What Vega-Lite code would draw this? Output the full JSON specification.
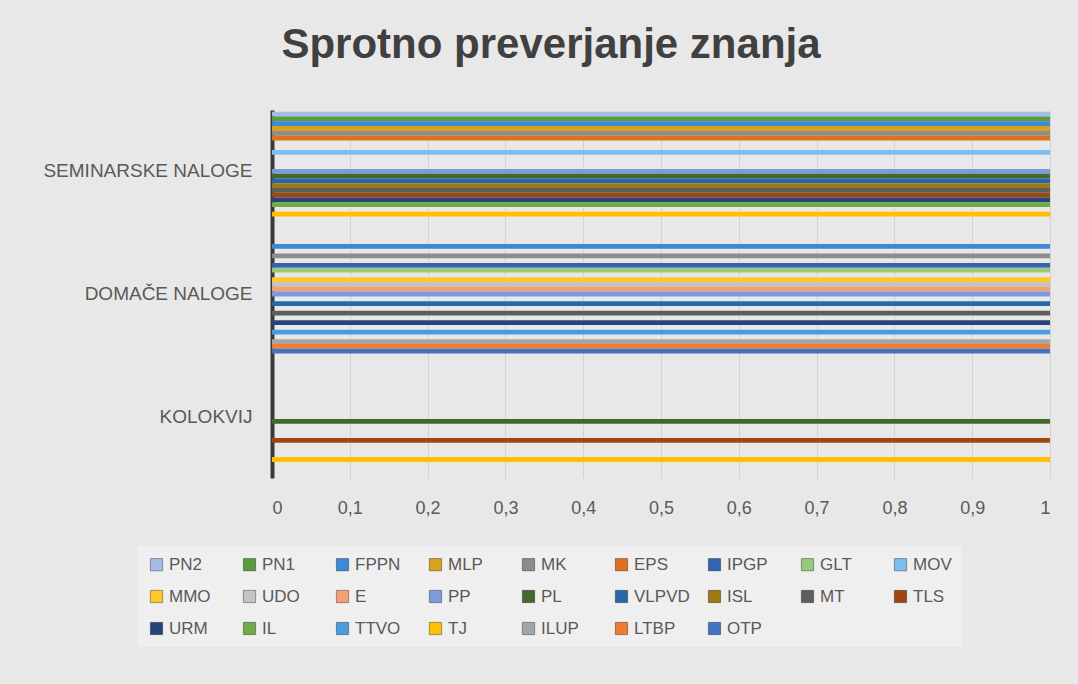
{
  "$schema": "https://vega.github.io/schema/vega-lite/v6.json",
  "width": 778,
  "height": 368,
  "autosize": {"type": "none"},
  "padding": {"left": 272, "top": 110, "right": 28, "bottom": 206},
  "background": "#E8E8E8",
  "title": {
    "text": "Sprotno preverjanje znanja",
    "font": "Liberation Sans",
    "fontSize": 42,
    "fontWeight": "bold",
    "color": "#404040",
    "anchor": "middle",
    "baseline": "alphabetic",
    "dx": -110,
    "offset": 10
  },
  "datasets": {
    "rows": [
      {"kategorija": "SEMINARSKE NALOGE", "predmet": "PN2", "vrednost": 1},
      {"kategorija": "SEMINARSKE NALOGE", "predmet": "PN1", "vrednost": 1},
      {"kategorija": "SEMINARSKE NALOGE", "predmet": "FPPN", "vrednost": 1},
      {"kategorija": "SEMINARSKE NALOGE", "predmet": "MLP", "vrednost": 1},
      {"kategorija": "SEMINARSKE NALOGE", "predmet": "MK", "vrednost": 1},
      {"kategorija": "SEMINARSKE NALOGE", "predmet": "EPS", "vrednost": 1},
      {"kategorija": "SEMINARSKE NALOGE", "predmet": "IPGP", "vrednost": 0},
      {"kategorija": "SEMINARSKE NALOGE", "predmet": "GLT", "vrednost": 0},
      {"kategorija": "SEMINARSKE NALOGE", "predmet": "MOV", "vrednost": 1},
      {"kategorija": "SEMINARSKE NALOGE", "predmet": "MMO", "vrednost": 0},
      {"kategorija": "SEMINARSKE NALOGE", "predmet": "UDO", "vrednost": 0},
      {"kategorija": "SEMINARSKE NALOGE", "predmet": "E", "vrednost": 0},
      {"kategorija": "SEMINARSKE NALOGE", "predmet": "PP", "vrednost": 1},
      {"kategorija": "SEMINARSKE NALOGE", "predmet": "PL", "vrednost": 1},
      {"kategorija": "SEMINARSKE NALOGE", "predmet": "VLPVD", "vrednost": 1},
      {"kategorija": "SEMINARSKE NALOGE", "predmet": "ISL", "vrednost": 1},
      {"kategorija": "SEMINARSKE NALOGE", "predmet": "MT", "vrednost": 1},
      {"kategorija": "SEMINARSKE NALOGE", "predmet": "TLS", "vrednost": 1},
      {"kategorija": "SEMINARSKE NALOGE", "predmet": "URM", "vrednost": 1},
      {"kategorija": "SEMINARSKE NALOGE", "predmet": "IL", "vrednost": 1},
      {"kategorija": "SEMINARSKE NALOGE", "predmet": "TTVO", "vrednost": 0},
      {"kategorija": "SEMINARSKE NALOGE", "predmet": "TJ", "vrednost": 1},
      {"kategorija": "SEMINARSKE NALOGE", "predmet": "ILUP", "vrednost": 0},
      {"kategorija": "SEMINARSKE NALOGE", "predmet": "LTBP", "vrednost": 0},
      {"kategorija": "SEMINARSKE NALOGE", "predmet": "OTP", "vrednost": 0},
      {"kategorija": "DOMAČE NALOGE", "predmet": "PN2", "vrednost": 0},
      {"kategorija": "DOMAČE NALOGE", "predmet": "PN1", "vrednost": 0},
      {"kategorija": "DOMAČE NALOGE", "predmet": "FPPN", "vrednost": 1},
      {"kategorija": "DOMAČE NALOGE", "predmet": "MLP", "vrednost": 0},
      {"kategorija": "DOMAČE NALOGE", "predmet": "MK", "vrednost": 1},
      {"kategorija": "DOMAČE NALOGE", "predmet": "EPS", "vrednost": 0},
      {"kategorija": "DOMAČE NALOGE", "predmet": "IPGP", "vrednost": 1},
      {"kategorija": "DOMAČE NALOGE", "predmet": "GLT", "vrednost": 1},
      {"kategorija": "DOMAČE NALOGE", "predmet": "MOV", "vrednost": 0},
      {"kategorija": "DOMAČE NALOGE", "predmet": "MMO", "vrednost": 1},
      {"kategorija": "DOMAČE NALOGE", "predmet": "UDO", "vrednost": 1},
      {"kategorija": "DOMAČE NALOGE", "predmet": "E", "vrednost": 1},
      {"kategorija": "DOMAČE NALOGE", "predmet": "PP", "vrednost": 1},
      {"kategorija": "DOMAČE NALOGE", "predmet": "PL", "vrednost": 0},
      {"kategorija": "DOMAČE NALOGE", "predmet": "VLPVD", "vrednost": 1},
      {"kategorija": "DOMAČE NALOGE", "predmet": "ISL", "vrednost": 0},
      {"kategorija": "DOMAČE NALOGE", "predmet": "MT", "vrednost": 1},
      {"kategorija": "DOMAČE NALOGE", "predmet": "TLS", "vrednost": 0},
      {"kategorija": "DOMAČE NALOGE", "predmet": "URM", "vrednost": 1},
      {"kategorija": "DOMAČE NALOGE", "predmet": "IL", "vrednost": 0},
      {"kategorija": "DOMAČE NALOGE", "predmet": "TTVO", "vrednost": 1},
      {"kategorija": "DOMAČE NALOGE", "predmet": "TJ", "vrednost": 0},
      {"kategorija": "DOMAČE NALOGE", "predmet": "ILUP", "vrednost": 1},
      {"kategorija": "DOMAČE NALOGE", "predmet": "LTBP", "vrednost": 1},
      {"kategorija": "DOMAČE NALOGE", "predmet": "OTP", "vrednost": 1},
      {"kategorija": "KOLOKVIJ", "predmet": "PN2", "vrednost": 0},
      {"kategorija": "KOLOKVIJ", "predmet": "PN1", "vrednost": 0},
      {"kategorija": "KOLOKVIJ", "predmet": "FPPN", "vrednost": 0},
      {"kategorija": "KOLOKVIJ", "predmet": "MLP", "vrednost": 0},
      {"kategorija": "KOLOKVIJ", "predmet": "MK", "vrednost": 0},
      {"kategorija": "KOLOKVIJ", "predmet": "EPS", "vrednost": 0},
      {"kategorija": "KOLOKVIJ", "predmet": "IPGP", "vrednost": 0},
      {"kategorija": "KOLOKVIJ", "predmet": "GLT", "vrednost": 0},
      {"kategorija": "KOLOKVIJ", "predmet": "MOV", "vrednost": 0},
      {"kategorija": "KOLOKVIJ", "predmet": "MMO", "vrednost": 0},
      {"kategorija": "KOLOKVIJ", "predmet": "UDO", "vrednost": 0},
      {"kategorija": "KOLOKVIJ", "predmet": "E", "vrednost": 0},
      {"kategorija": "KOLOKVIJ", "predmet": "PP", "vrednost": 0},
      {"kategorija": "KOLOKVIJ", "predmet": "PL", "vrednost": 1},
      {"kategorija": "KOLOKVIJ", "predmet": "VLPVD", "vrednost": 0},
      {"kategorija": "KOLOKVIJ", "predmet": "ISL", "vrednost": 0},
      {"kategorija": "KOLOKVIJ", "predmet": "MT", "vrednost": 0},
      {"kategorija": "KOLOKVIJ", "predmet": "TLS", "vrednost": 1},
      {"kategorija": "KOLOKVIJ", "predmet": "URM", "vrednost": 0},
      {"kategorija": "KOLOKVIJ", "predmet": "IL", "vrednost": 0},
      {"kategorija": "KOLOKVIJ", "predmet": "TTVO", "vrednost": 0},
      {"kategorija": "KOLOKVIJ", "predmet": "TJ", "vrednost": 1},
      {"kategorija": "KOLOKVIJ", "predmet": "ILUP", "vrednost": 0},
      {"kategorija": "KOLOKVIJ", "predmet": "LTBP", "vrednost": 0},
      {"kategorija": "KOLOKVIJ", "predmet": "OTP", "vrednost": 0}
    ]
  },
  "data": {"name": "rows"},
  "mark": {"type": "bar"},
  "encoding": {
    "y": {
      "field": "kategorija",
      "type": "nominal",
      "sort": ["SEMINARSKE NALOGE", "DOMAČE NALOGE", "KOLOKVIJ"],
      "scale": {"paddingInner": 0.03, "paddingOuter": 0.015},
      "axis": {
        "title": null,
        "domainColor": "#3A3A3A",
        "domainWidth": 4,
        "ticks": false,
        "grid": false,
        "labelFont": "Liberation Sans",
        "labelFontSize": 19,
        "labelColor": "#595959",
        "labelPadding": 20,
        "labelLimit": 400
      }
    },
    "yOffset": {
      "field": "predmet",
      "type": "nominal",
      "sort": ["PN2","PN1","FPPN","MLP","MK","EPS","IPGP","GLT","MOV","MMO","UDO","E","PP","PL","VLPVD","ISL","MT","TLS","URM","IL","TTVO","TJ","ILUP","LTBP","OTP"],
      "scale": {"paddingInner": 0, "paddingOuter": 0}
    },
    "x": {
      "field": "vrednost",
      "type": "quantitative",
      "scale": {"domain": [0, 1], "nice": false},
      "axis": {
        "title": null,
        "values": [0, 0.1, 0.2, 0.3, 0.4, 0.5, 0.6, 0.7, 0.8, 0.9, 1],
        "labelExpr": "replace(format(datum.value, '.1~f'), '.', ',')",
        "domain": false,
        "ticks": false,
        "grid": true,
        "gridColor": "#D2D2D2",
        "labelFont": "Liberation Sans",
        "labelFontSize": 18,
        "labelColor": "#595959",
        "labelPadding": 21
      }
    },
    "color": {
      "field": "predmet",
      "type": "nominal",
      "scale": {
        "domain": ["PN2","PN1","FPPN","MLP","MK","EPS","IPGP","GLT","MOV","MMO","UDO","E","PP","PL","VLPVD","ISL","MT","TLS","URM","IL","TTVO","TJ","ILUP","LTBP","OTP"],
        "range": ["#A4BCEA","#5B9B3C","#3C8AD6","#D9A21B","#8C8C8C","#E0701E","#3563B4","#98C87A","#7DBEF0","#FFC82A","#C4C4C4","#F4A070","#7B9CDB","#43682B","#2868A8","#9C7A12","#5E5E5E","#9E480E","#264478","#6FAB46","#4A9CE2","#FFC000","#A5A5A5","#ED7D31","#4472C4"]
      },
      "legend": {
        "title": null,
        "orient": "none",
        "legendX": -134,
        "legendY": 436,
        "direction": "horizontal",
        "columns": 9,
        "gridAlign": "all",
        "symbolType": "square",
        "symbolSize": 150,
        "symbolStrokeWidth": 1,
        "symbolStrokeColor": "rgba(0,0,0,0.35)",
        "labelFont": "Liberation Sans",
        "labelFontSize": 17,
        "labelColor": "#595959",
        "labelOffset": 4,
        "columnPadding": 16,
        "rowPadding": 14,
        "fillColor": "#EFEFEF",
        "padding": 10
      }
    }
  },
  "config": {
    "view": {"stroke": null}
  }
}
